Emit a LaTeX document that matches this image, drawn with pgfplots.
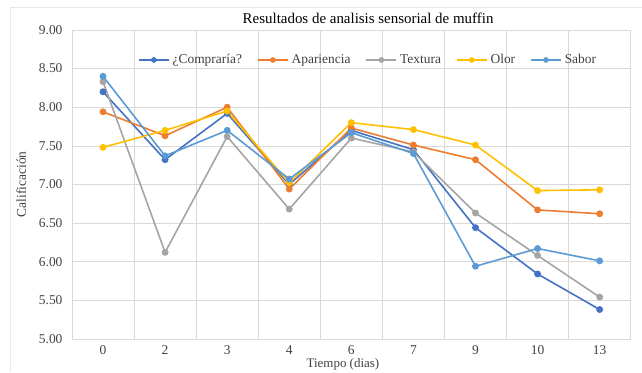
\documentclass[border=0pt]{standalone}
\usepackage{pgfplots}
\pgfplotsset{compat=1.18}
\usepackage{fontspec}
\setmainfont{Liberation Serif}
\definecolor{cA}{HTML}{4472C4}
\definecolor{cB}{HTML}{ED7D31}
\definecolor{cC}{HTML}{A5A5A5}
\definecolor{cD}{HTML}{FFC000}
\definecolor{cE}{HTML}{5B9BD5}
\definecolor{gridc}{HTML}{D9D9D9}
\begin{document}
\begin{tikzpicture}
\path (-72bp,-33bp) rectangle (570bp,339bp);
\draw[gridc!60, line width=0.6bp] (-62bp,-33bp) -- (-62bp,332bp) -- (570bp,332bp);
\begin{axis}[
  at={(0,0)}, anchor=south west,
  scale only axis, width=559bp, height=309bp,
  xmin=-0.5, xmax=8.5, ymin=5, ymax=9,
  xtick={0,...,8},
  xticklabels={0,2,3,4,6,7,9,10,13},
  minor xtick={-0.5,0.5,...,8.5},
  ytick={5,5.5,...,9},
  /pgf/number format/assume math mode=true,
  ymajorgrids, xminorgrids,
  grid style={gridc, line width=0.6bp},
  minor grid style={gridc, line width=0.6bp},
  axis line style={gridc},
  axis y line*=left,
  y axis line style={draw=none},
  tick style={draw=none},
  minor tick style={draw=none},
  ticklabel style={font=\fontsize{13.5}{15}\selectfont, text=black!75},
  yticklabel style={/pgf/number format/fixed, /pgf/number format/fixed zerofill, /pgf/number format/precision=2, xshift=-6bp},
  xticklabel style={yshift=-3bp},
  title={Resultados de analisis sensorial de muffin},
  title style={font=\fontsize{15}{17}\selectfont, at={(0.53,1)}, anchor=south, yshift=-3bp},
  xlabel={Tiempo (dias)},
  ylabel={Calificación},
  every axis x label/.style={at={(axis description cs:0.485,0)}, anchor=north, yshift=-19.5bp, inner sep=0pt, font=\fontsize{13}{14}\selectfont, text=black!75},
  ylabel style={font=\fontsize{13.5}{15}\selectfont, text=black!75, yshift=6bp},
  legend style={at={(0.53,0.903)}, anchor=center, draw=none, fill=none,
    font=\fontsize{13.5}{15}\selectfont, text=black!75, legend columns=5,
    /tikz/every odd column/.append style={column sep=1bp},
    /tikz/every even column/.append style={column sep=13bp}},
  legend image code/.code={\draw[#1, mark size=2bp] (0bp,0bp) -- (30bp,0bp); \draw[#1, mark size=2bp, mark repeat=1] plot coordinates {(15bp,0bp)};},
  every axis plot/.append style={line width=1.6bp, mark=*, mark size=2.6bp},
]
\addplot[cA, mark options={fill=cA}] coordinates {(0,8.20)(1,7.32)(2,7.92)(3,7.00)(4,7.70)(5,7.45)(6,6.44)(7,5.84)(8,5.38)};
\addlegendentry{¿Compraría?}
\addplot[cB, mark options={fill=cB}] coordinates {(0,7.94)(1,7.63)(2,8.00)(3,6.94)(4,7.73)(5,7.51)(6,7.32)(7,6.67)(8,6.62)};
\addlegendentry{Apariencia}
\addplot[cC, mark options={fill=cC}] coordinates {(0,8.33)(1,6.12)(2,7.62)(3,6.68)(4,7.60)(5,7.42)(6,6.63)(7,6.08)(8,5.54)};
\addlegendentry{Textura}
\addplot[cD, mark options={fill=cD}] coordinates {(0,7.48)(1,7.70)(2,7.95)(3,7.02)(4,7.80)(5,7.71)(6,7.51)(7,6.92)(8,6.93)};
\addlegendentry{Olor}
\addplot[cE, mark options={fill=cE}] coordinates {(0,8.40)(1,7.37)(2,7.70)(3,7.07)(4,7.67)(5,7.40)(6,5.94)(7,6.17)(8,6.01)};
\addlegendentry{Sabor}
\end{axis}
\end{tikzpicture}
\end{document}
